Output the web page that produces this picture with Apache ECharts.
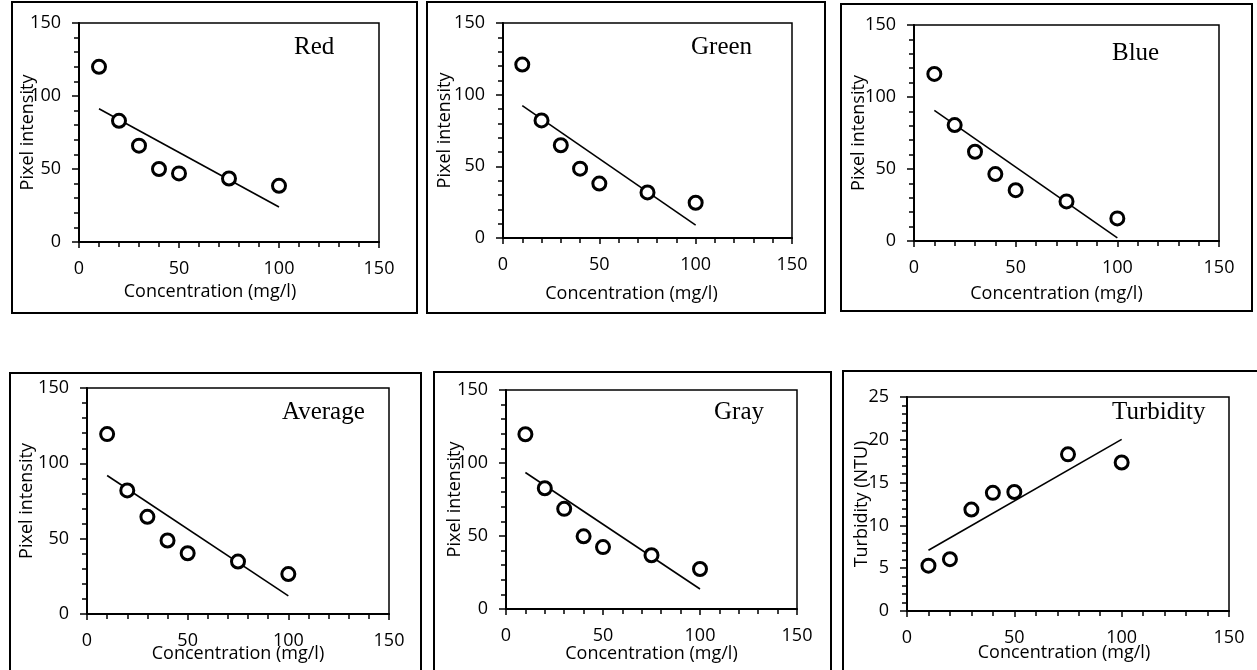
<!DOCTYPE html>
<html>
<head>
<meta charset="utf-8">
<script src="https://cdn.jsdelivr.net/npm/echarts@6/dist/echarts.min.js"></script>
<style>
  html, body { margin: 0; padding: 0; background: #fff; overflow: hidden; }
  #chart { position: absolute; left: 0; top: 0; width: 1257px; height: 670px; }
  .frame { position: absolute; border: 2px solid #000; box-sizing: border-box; pointer-events: none; }
</style>
</head>
<body>
<div id="chart"></div>
<div class="frame" style="left:11px;top:1px;width:407px;height:313px"></div>
<div class="frame" style="left:426px;top:1px;width:400px;height:313px"></div>
<div class="frame" style="left:840px;top:3px;width:413px;height:309px"></div>
<div class="frame" style="left:9px;top:372px;width:413px;height:320px"></div>
<div class="frame" style="left:433px;top:371px;width:399px;height:320px"></div>
<div class="frame" style="left:842px;top:370px;width:440px;height:320px"></div>
<script>
// 浓度 (x)
var concentration = [10, 20, 30, 40, 50, 75, 100];

// 各通道像素强度
var redVals = [120, 83, 66, 50, 47, 43.5, 38.5];
var greenVals = [121, 82, 64.7, 48.4, 38, 31.8, 24.6];
var blueVals = [116, 80.5, 62, 46.5, 35.3, 27.5, 15.7];
var averageVals = [119.4, 82, 64.5, 48.8, 40.3, 34.8, 26.5];
var grayVals = [119.7, 82.7, 68.6, 49.8, 42.4, 36.8, 27.4];
var turbidityVals = [5.3, 6.05, 11.85, 13.8, 13.9, 18.3, 17.35];

// 趋势线两端 (x = 10 和 x = 100)
var trendX = [10, 100];
var redTrend = [91.3, 24];
var greenTrend = [92.3, 9];
var blueTrend = [90.7, 2.2];
var averageTrend = [91.9, 12];
var grayTrend = [93.5, 13.7];
var turbidityTrend = [7.1, 20.05];

var panelNames = ['Red', 'Green', 'Blue', 'Average', 'Gray', 'Turbidity'];
var yTitles = ['Pixel intensity', 'Pixel intensity', 'Pixel intensity', 'Pixel intensity', 'Pixel intensity', 'Turbidity (NTU)'];
var xTitle = 'Concentration (mg/l)';

var panels = [
  { vals: redVals, trend: redTrend, yMax: 150, yStep: 50,
    grid: { left: 79, top: 23, width: 300, height: 219 },
    xGap: 50, xPad: 38, yGap: 51, label: { left: 294, top: 35 } },
  { vals: greenVals, trend: greenTrend, yMax: 150, yStep: 50,
    grid: { left: 503, top: 23, width: 289, height: 215 },
    xGap: 56, xPad: 32, yGap: 58, label: { left: 691, top: 35 } },
  { vals: blueVals, trend: blueTrend, yMax: 150, yStep: 50,
    grid: { left: 914, top: 25, width: 305, height: 216 },
    xGap: 53, xPad: 20, yGap: 55, label: { left: 1112, top: 41 } },
  { vals: averageVals, trend: averageTrend, yMax: 150, yStep: 50,
    grid: { left: 87, top: 388, width: 302, height: 226 },
    xGap: 40, xPad: 0, yGap: 60, label: { left: 282, top: 400 } },
  { vals: grayVals, trend: grayTrend, yMax: 150, yStep: 50,
    grid: { left: 506, top: 390, width: 291, height: 219 },
    xGap: 45, xPad: 0, yGap: 51, label: { left: 714, top: 400 } },
  { vals: turbidityVals, trend: turbidityTrend, yMax: 25, yStep: 5,
    grid: { left: 907, top: 397, width: 322, height: 214 },
    xGap: 42, xPad: 8, yGap: 45, label: { left: 1112, top: 400 } }
];

var sans = '"Open Sans", "Liberation Sans", sans-serif';
var serif = '"Liberation Serif", "DejaVu Serif", serif';

var grids = [], xAxes = [], yAxes = [], series = [], titles = [];

panels.forEach(function (p, i) {
  grids.push({
    left: p.grid.left, top: p.grid.top, width: p.grid.width, height: p.grid.height,
    show: true, borderColor: '#000', borderWidth: 1.5, backgroundColor: 'transparent'
  });
  xAxes.push({
    gridIndex: i, type: 'value', min: 0, max: 150, interval: 50,
    name: xTitle, nameLocation: 'middle', nameGap: p.xGap, nameMoveOverlap: false,
    nameTextStyle: { fontFamily: sans, fontSize: 18, color: '#000', verticalAlign: 'middle', padding: [0, p.xPad, 0, 0] },
    axisLine: { show: true, onZero: false, lineStyle: { color: '#000', width: 2 } },
    axisTick: { show: true, inside: false, length: 6, lineStyle: { color: '#000', width: 1.5 } },
    minorTick: { show: true, splitNumber: 5, length: 5, lineStyle: { color: '#000', width: 1.5 } },
    axisLabel: { fontFamily: sans, fontSize: 18, color: '#000', margin: 18 },
    splitLine: { show: false }
  });
  yAxes.push({
    gridIndex: i, type: 'value', min: 0, max: p.yMax, interval: p.yStep,
    name: yTitles[i], nameLocation: 'middle', nameGap: p.yGap, nameMoveOverlap: false,
    nameTextStyle: { fontFamily: sans, fontSize: 18, color: '#000', verticalAlign: 'middle' },
    axisLine: { show: true, onZero: false, lineStyle: { color: '#000', width: 2 } },
    axisTick: { show: true, inside: false, length: 7, lineStyle: { color: '#000', width: 1.5 } },
    minorTick: { show: true, splitNumber: 5, length: 5, lineStyle: { color: '#000', width: 1.5 } },
    axisLabel: { fontFamily: sans, fontSize: 18, color: '#000', margin: 18 },
    splitLine: { show: false }
  });
  titles.push({
    text: panelNames[i], left: p.label.left, top: p.label.top, padding: 0,
    textStyle: { fontFamily: serif, fontSize: 25, fontWeight: 'normal', color: '#000' }
  });
  series.push({
    type: 'line', xAxisIndex: i, yAxisIndex: i, z: 2,
    data: trendX.map(function (x, k) { return [x, p.trend[k]]; }),
    symbol: 'none', silent: true,
    lineStyle: { color: '#000', width: 1.6 }
  });
  series.push({
    type: 'scatter', xAxisIndex: i, yAxisIndex: i, z: 3,
    data: concentration.map(function (x, k) { return [x, p.vals[k]]; }),
    symbol: 'circle', symbolSize: 13,
    itemStyle: { color: '#fff', borderColor: '#000', borderWidth: 3, opacity: 1 }
  });
});

var chart = echarts.init(document.getElementById('chart'), null, { renderer: 'canvas' });
chart.setOption({
  animation: false,
  backgroundColor: '#fff',
  title: titles,
  grid: grids,
  xAxis: xAxes,
  yAxis: yAxes,
  series: series
});
</script>
</body>
</html>
